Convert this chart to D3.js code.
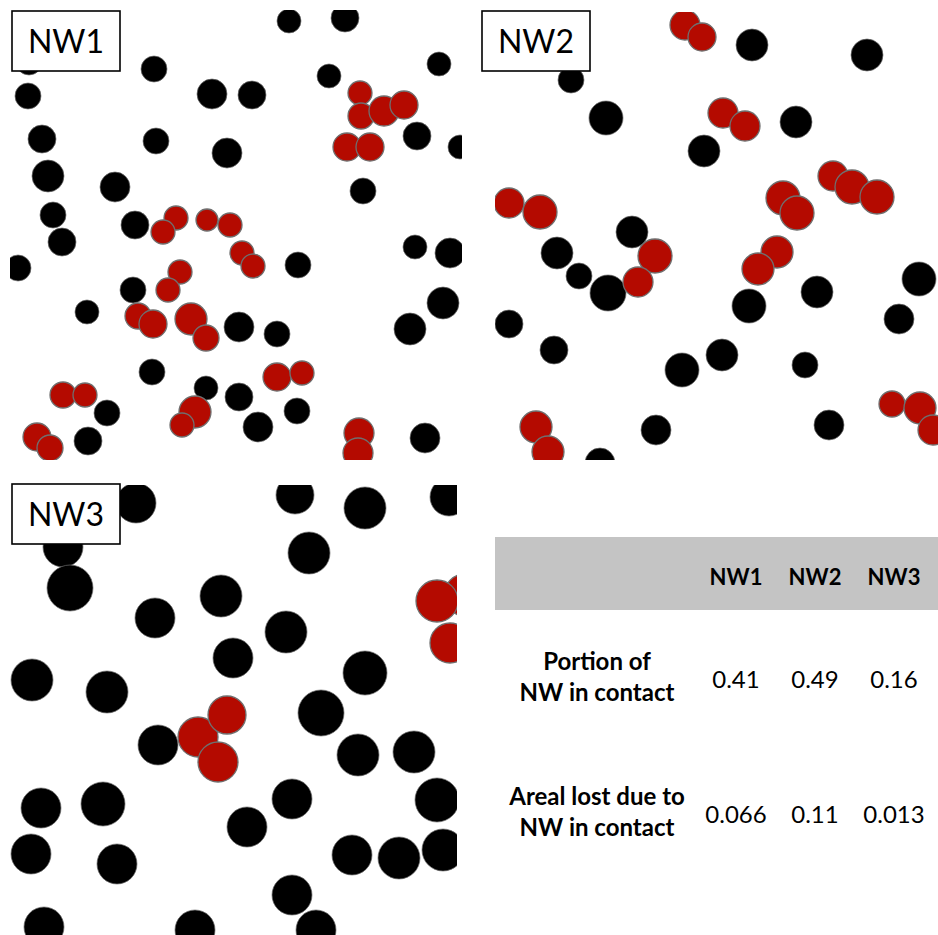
<!DOCTYPE html>
<html><head><meta charset="utf-8">
<script src="https://cdn.jsdelivr.net/npm/d3@7"></script>
<style>body{margin:0;background:#fff}svg{display:block}</style>
</head><body>
<script>
// Panel-local circle data: [x, y, r]
const nw1Black = [[19,52,13],[18,86,13],[144,59,13],[202,84,15],[242,85,14],[32,129,14],[146,131,13],[217,143,15],[38,166,16],[105,177,15],[43,205,13],[52,232,14],[125,215,14],[279,11,12],[335,8,14],[429,54,12],[319,66,12],[407,126,14],[450,137,12],[353,181,13],[8,258,13],[123,280,13],[77,302,12],[229,317,15],[142,362,13],[196,378,12],[229,387,14],[97,403,13],[78,431,14],[288,255,13],[405,237,12],[440,243,15],[433,293,16],[400,319,16],[267,324,13],[287,401,13],[248,417,15],[415,428,15]];
const nw1Red = [[166,208,12],[153,222,12],[197,210,11],[220,215,12],[350,83,12],[351,106,13],[374,101,15],[394,95,14],[337,137,14],[360,137,14],[170,262,12],[158,280,12],[128,306,13],[143,314,14],[181,309,16],[196,328,13],[53,385,13],[75,385,12],[185,402,16],[172,415,12],[27,427,14],[40,438,13],[232,243,12],[243,256,12],[267,367,14],[292,363,12],[349,423,15],[348,443,15]];
const nw2Black = [[76,68,13],[111,106,17],[209,139,16],[137,220,16],[257,33,16],[372,43,16],[301,110,16],[62,241,16],[84,264,13],[113,281,18],[14,312,14],[59,338,14],[187,358,17],[227,343,16],[161,418,15],[105,451,15],[254,294,17],[322,280,16],[424,267,17],[404,307,15],[310,353,13],[334,413,15]];
const nw2Red = [[190,13,15],[207,25,14],[228,101,15],[250,114,15],[14,191,15],[45,200,17],[288,186,17],[302,201,17],[338,164,15],[357,175,17],[382,185,17],[160,244,17],[143,270,15],[282,240,16],[263,257,16],[41,415,16],[53,440,16],[397,392,13],[425,396,16],[438,418,15]];
const nw3Black = [[126,18,20],[53,62,20],[60,103,23],[145,133,20],[211,111,21],[22,195,21],[97,207,21],[223,173,20],[285,10,19],[355,23,21],[439,12,19],[299,68,21],[276,147,21],[355,188,22],[311,228,23],[148,260,20],[31,323,20],[93,319,22],[21,369,20],[107,379,20],[237,342,20],[34,442,20],[185,445,20],[348,270,21],[404,267,21],[282,314,20],[427,315,22],[342,370,20],[389,373,21],[433,365,21],[282,410,20],[306,445,20]];
const nw3Red = [[188,252,20],[217,230,19],[208,277,20],[455,110,21],[427,116,21],[440,158,20]];

const panelNames = ["NW1","NW2","NW3"];
const tableColumns = ["NW1","NW2","NW3"];
const rowLabels = [["Portion of","NW in contact"],["Areal lost due to","NW in contact"]];
const rowValues = [["0.41","0.49","0.16"],["0.066","0.11","0.013"]];

const W = 938, H = 935;
const svg = d3.select("body").append("svg").attr("width", W).attr("height", H);
const defs = svg.append("defs");

const panels = [
  {name: panelNames[0], x0: 10, y0: 10, w: 452, h: 450, black: nw1Black, red: nw1Red, label: [12, 11]},
  {name: panelNames[1], x0: 495, y0: 12, w: 443, h: 448, black: nw2Black, red: nw2Red, label: [482, 11]},
  {name: panelNames[2], x0: 10, y0: 485, w: 447, h: 450, black: nw3Black, red: nw3Red, label: [12, 484]}
];

panels.forEach((p, i) => {
  const sx = d3.scaleLinear().domain([0, p.w]).range([p.x0, p.x0 + p.w]);
  const sy = d3.scaleLinear().domain([0, p.h]).range([p.y0, p.y0 + p.h]);
  const sr = d3.scaleLinear().domain([0, p.w]).range([0, p.w]);
  defs.append("clipPath").attr("id", "clip" + i)
    .append("rect").attr("x", p.x0).attr("y", p.y0).attr("width", p.w).attr("height", p.h);
  const g = svg.append("g").attr("clip-path", `url(#clip${i})`);
  g.selectAll("circle.b").data(p.black).join("circle").attr("class", "b")
    .attr("cx", d => sx(d[0])).attr("cy", d => sy(d[1])).attr("r", d => sr(d[2]))
    .attr("fill", "#000").attr("stroke", "#6d6d6d").attr("stroke-width", 0.7);
  g.selectAll("circle.r").data(p.red).join("circle").attr("class", "r")
    .attr("cx", d => sx(d[0])).attr("cy", d => sy(d[1])).attr("r", d => sr(d[2]))
    .attr("fill", "#b40a00").attr("stroke", "#6f6f6f").attr("stroke-width", 1.3);
  const lg = svg.append("g");
  lg.append("rect").attr("x", p.label[0]).attr("y", p.label[1]).attr("width", 108).attr("height", 60)
    .attr("fill", "#fff").attr("stroke", "#000").attr("stroke-width", 1.6);
  lg.append("text").attr("x", p.label[0] + 54).attr("y", p.label[1] + 42)
    .attr("text-anchor", "middle").attr("font-family", "Lato, 'Open Sans', sans-serif")
    .attr("font-size", 32).attr("fill", "#000").text(p.name);
});

// Table
const tx0 = 495, tx1 = 938;
svg.append("rect").attr("x", tx0).attr("y", 537).attr("width", tx1 - tx0).attr("height", 73).attr("fill", "#c4c4c4");
const colX = d3.scalePoint().domain(tableColumns).range([736, 894]);
const rowY = d3.scalePoint().domain(d3.range(rowLabels.length)).range([680, 815]);
const font = "Lato, 'Open Sans', sans-serif";
svg.selectAll("text.hdr").data(tableColumns).join("text").attr("class", "hdr")
  .attr("x", d => colX(d)).attr("y", 585).attr("text-anchor", "middle")
  .attr("font-family", font).attr("font-weight", "bold").attr("font-size", 22).attr("fill", "#000").text(d => d);
rowLabels.forEach((lines, ri) => {
  const cy = rowY(ri);
  lines.forEach((ln, li) => {
    svg.append("text").attr("x", 597).attr("y", cy - 10 + li * 31).attr("text-anchor", "middle")
      .attr("font-family", font).attr("font-weight", "bold").attr("font-size", 24).attr("fill", "#000").text(ln);
  });
  rowValues[ri].forEach((v, ci) => {
    svg.append("text").attr("x", colX(tableColumns[ci])).attr("y", cy + 8).attr("text-anchor", "middle")
      .attr("font-family", font).attr("font-size", 24).attr("fill", "#000").text(v);
  });
});
</script>
</body></html>
